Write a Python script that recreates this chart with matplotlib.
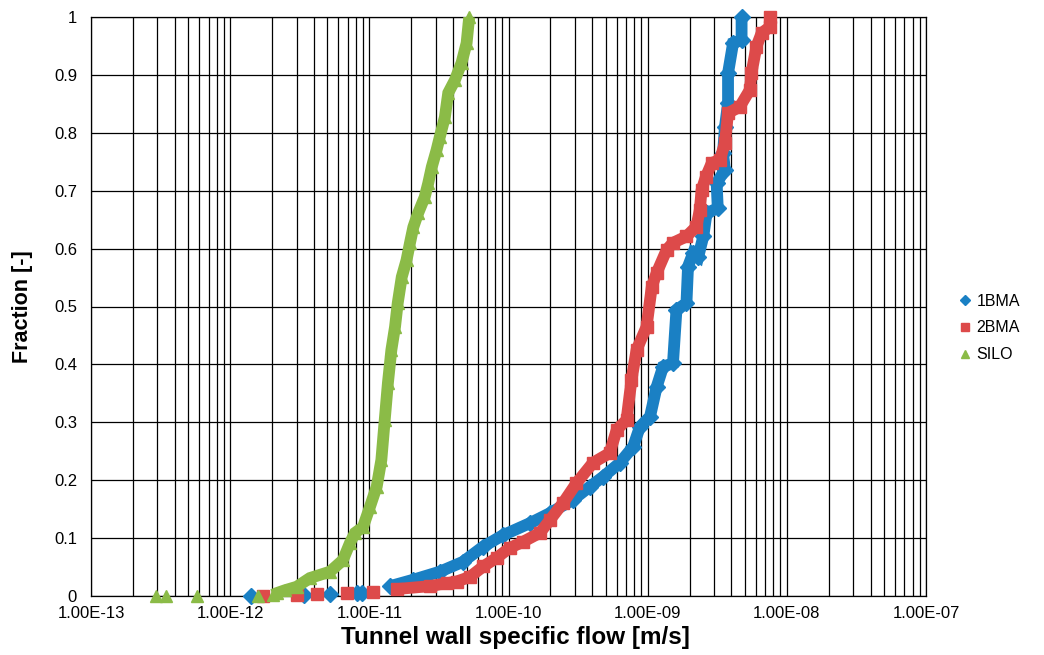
import matplotlib
matplotlib.use("Agg")
import matplotlib.pyplot as plt
from matplotlib.ticker import FixedLocator, FuncFormatter, NullFormatter

plt.rcParams['font.family'] = ['Liberation Sans', 'DejaVu Sans']

# ---- data ----
bma1_x = [1.41e-12, 3.39e-12, 5.21e-12, 8.11e-12, 8.81e-12,
          1.41e-11, 2.06e-11, 3.21e-11, 4.70e-11, 6.55e-11, 9.12e-11,
          1.43e-10, 1.98e-10, 2.90e-10, 3.85e-10, 4.79e-10, 6.31e-10,
          7.87e-10, 8.79e-10, 1.04e-9, 1.16e-9, 1.29e-9, 1.52e-9,
          1.61e-9, 1.90e-9, 1.95e-9, 2.12e-9, 2.31e-9, 2.51e-9, 2.65e-9,
          3.19e-9, 3.13e-9, 3.59e-9, 3.48e-9, 3.59e-9, 3.78e-9, 3.78e-9,
          4.11e-9, 4.73e-9, 4.73e-9]
bma1_y = [0.0, 0.002, 0.003, 0.005, 0.005,
          0.017, 0.028, 0.042, 0.059, 0.085, 0.105,
          0.126, 0.143, 0.166, 0.189, 0.206, 0.230,
          0.258, 0.292, 0.310, 0.361, 0.396, 0.402,
          0.494, 0.506, 0.569, 0.592, 0.586, 0.621, 0.661,
          0.670, 0.713, 0.736, 0.765, 0.810, 0.851, 0.903,
          0.955, 0.960, 1.0]

bma2_x = [1.72e-12, 3.01e-12, 4.18e-12, 6.87e-12, 1.06e-11,
          1.57e-11, 2.72e-11, 3.59e-11, 4.24e-11, 5.28e-11, 6.58e-11,
          8.22e-11, 1.02e-10, 1.28e-10, 1.68e-10, 1.98e-10, 2.47e-10,
          3.08e-10, 4.04e-10, 5.34e-10, 5.99e-10, 7.05e-10, 7.65e-10,
          8.32e-10, 9.82e-10, 1.07e-9, 1.16e-9, 1.37e-9, 1.52e-9,
          1.90e-9, 2.24e-9, 2.37e-9, 2.44e-9, 2.62e-9, 2.89e-9, 3.30e-9,
          3.59e-9, 3.78e-9, 4.59e-9, 5.42e-9, 5.57e-9, 6.05e-9, 6.58e-9,
          7.55e-9, 7.55e-9]
bma2_y = [0.0, 0.002, 0.003, 0.005, 0.007,
          0.012, 0.017, 0.022, 0.025, 0.033, 0.051,
          0.066, 0.083, 0.094, 0.109, 0.131, 0.161,
          0.195, 0.230, 0.247, 0.287, 0.304, 0.373,
          0.425, 0.465, 0.534, 0.558, 0.598, 0.610,
          0.621, 0.638, 0.667, 0.701, 0.724, 0.748, 0.753,
          0.782, 0.834, 0.845, 0.874, 0.903, 0.949, 0.972,
          0.983, 1.0]

silo_x = [2.93e-13, 3.48e-13, 5.74e-13, 1.58e-12, 2.02e-12,
          2.16e-12, 2.48e-12, 3.01e-12, 3.74e-12, 5.21e-12, 6.46e-12,
          7.27e-12, 7.89e-12, 9.0e-12, 1.01e-11, 1.13e-11, 1.22e-11,
          1.29e-11, 1.36e-11, 1.44e-11, 1.53e-11, 1.60e-11, 1.71e-11,
          1.85e-11, 1.96e-11, 2.07e-11, 2.24e-11, 2.50e-11, 2.65e-11,
          2.81e-11, 3.04e-11, 3.21e-11, 3.49e-11, 3.69e-11, 4.12e-11,
          4.60e-11, 5.0e-11, 5.22e-11]
silo_y = [0.0, 0.0, 0.0, 0.0, 0.002,
          0.005, 0.010, 0.016, 0.031, 0.042, 0.062,
          0.092, 0.109, 0.119, 0.154, 0.189, 0.235,
          0.304, 0.368, 0.425, 0.465, 0.506, 0.551,
          0.580, 0.610, 0.637, 0.661, 0.689, 0.713,
          0.741, 0.770, 0.793, 0.827, 0.869, 0.891,
          0.921, 0.955, 1.0]

series_names = ['1BMA', '2BMA', 'SILO']
# index where the dense (continuous) part of each series begins;
# the points before it are isolated low values
dense_start = [5, 5, 4]
colors = ['#1a80c4', '#dd4a4a', '#8bbb47']
markers = ['D', 's', '^']

x_ticks = [1e-13, 1e-12, 1e-11, 1e-10, 1e-9, 1e-8, 1e-7]
y_ticks = [0, 0.1, 0.2, 0.3, 0.4, 0.5, 0.6, 0.7, 0.8, 0.9, 1.0]

# ---- figure ----
W, H = 1044, 655
fig = plt.figure(figsize=(W / 100, H / 100), dpi=100)
ax = fig.add_axes([91 / W, 1 - 596 / H, (926 - 91) / W, (596 - 17) / H])

ax.set_xscale('log')
ax.set_xlim(1e-13, 1e-7)
ax.set_ylim(0, 1)

ax.xaxis.set_major_locator(FixedLocator(x_ticks))
ax.xaxis.set_major_formatter(FuncFormatter(lambda v, p: f"{v:.2E}"))
minor = [m * d for d in x_ticks[:-1] for m in range(2, 10)]
ax.xaxis.set_minor_locator(FixedLocator(minor))
ax.xaxis.set_minor_formatter(NullFormatter())
ax.yaxis.set_major_locator(FixedLocator(y_ticks))
ax.yaxis.set_major_formatter(FuncFormatter(lambda v, p: f"{v:g}"))

ax.grid(True, which='major', color='black', lw=0.9)
ax.grid(True, which='minor', axis='x', color='black', lw=0.9)
ax.set_axisbelow(True)
for s in ax.spines.values():
    s.set_color('black')
    s.set_linewidth(0.9)

ax.tick_params(axis='both', which='both', length=0, labelsize=12)
ax.tick_params(axis='x', pad=7)
ax.tick_params(axis='y', pad=10)

data = [(bma1_x, bma1_y), (bma2_x, bma2_y), (silo_x, silo_y)]
for (xs, ys), k, name, c, m in zip(data, dense_start, series_names, colors, markers):
    ax.plot(xs[k:], ys[k:], '-', color=c, lw=8.5, solid_joinstyle='miter',
            solid_capstyle='butt', zorder=3)
    ax.plot(xs, ys, ls='none', marker=m, color=c, ms=9 if m != 'D' else 8,
            mec=c, zorder=3, label=name, clip_on=False)

ax.set_xlabel('Tunnel wall specific flow [m/s]', fontsize=17.5, fontweight='bold')
ax.xaxis.set_label_coords(0.508, -0.051, transform=ax.transAxes)
ax.xaxis.label.set_va('top')
ax.set_ylabel('Fraction [-]', fontsize=15.5, fontweight='bold', labelpad=15)

handles, labels = ax.get_legend_handles_labels()
leg = fig.legend(handles, labels, loc='center left', bbox_to_anchor=(943 / W, 1 - 328 / H),
                 frameon=False, fontsize=11.5, handlelength=0.9, handletextpad=0.3,
                 labelspacing=0.75, markerscale=0.65)

fig.savefig('out.png', dpi=100)
